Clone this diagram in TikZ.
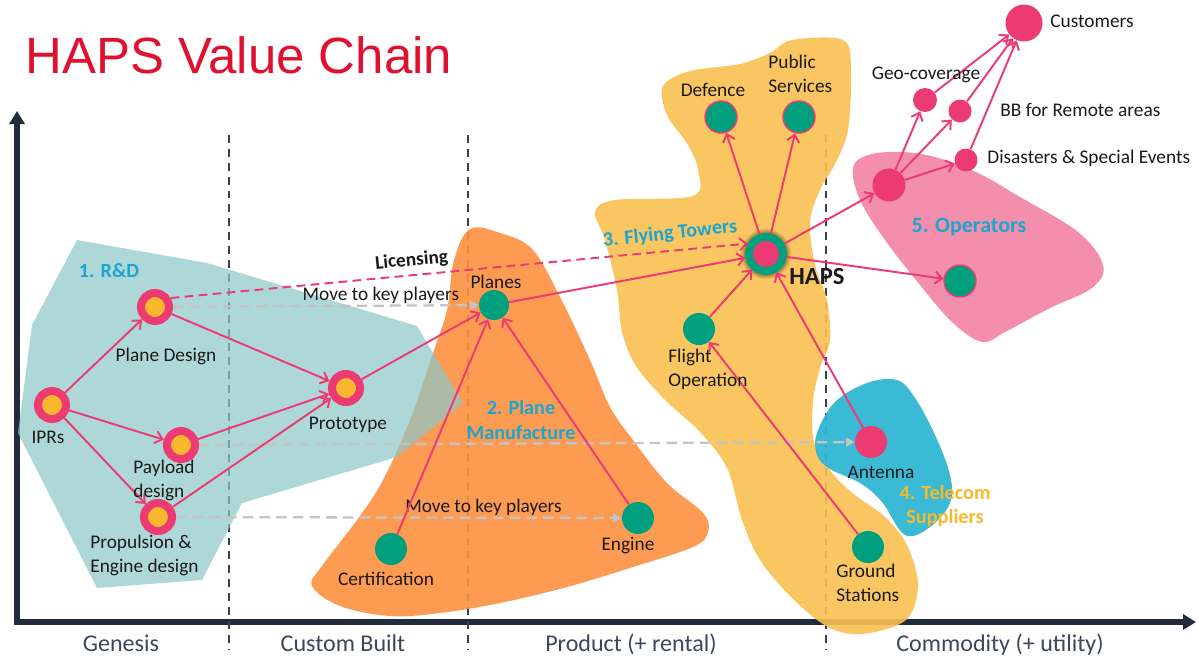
\documentclass[tikz,border=0pt]{standalone}
\usepackage{fontspec}
\setmainfont{Carlito}
\newfontfamily\titlefont{Liberation Sans}
\usetikzlibrary{arrows.meta}

\definecolor{nodepink}{HTML}{EC3A72}
\definecolor{nodeyellow}{HTML}{FBB82F}
\definecolor{nodegreen}{HTML}{00A07E}
\definecolor{rdteal}{HTML}{8CC8C8}
\definecolor{mforange}{HTML}{FD9040}
\definecolor{ftyellow}{HTML}{FAC050}
\definecolor{tsblue}{HTML}{2FB6D2}
\definecolor{oppink}{HTML}{F288A9}
\definecolor{zoneblue}{HTML}{1AA6CF}
\definecolor{zoneyellow}{HTML}{F9B92A}
\definecolor{titlered}{HTML}{E0112F}
\definecolor{axisnavy}{HTML}{222B3D}
\definecolor{phasegray}{HTML}{3E475A}
\definecolor{movegray}{HTML}{C4C4C4}
\definecolor{lbltext}{HTML}{1A1A1A}

\tikzset{
  rdnode/.style={circle,draw=nodepink,fill=nodeyellow,line width=0.16cm,minimum size=0.56cm,inner sep=0pt,outer sep=0.08cm},
  grnode/.style={circle,fill=nodegreen,minimum size=0.64cm,inner sep=0pt},
  grpnode/.style={grnode,draw=nodepink,line width=0.8pt},
  pknode/.style={circle,fill=nodepink,inner sep=0pt},
  hapsnode/.style={circle,draw=nodegreen,fill=nodepink,line width=0.155cm,minimum size=0.68cm,inner sep=0pt,outer sep=0.078cm},
  pinkarrow/.style={draw=nodepink,line width=1.1pt,-{Straight Barb[length=4pt,width=7pt]}},
  grayarrow/.style={draw=movegray,line width=1.3pt,dash pattern=on 6pt off 3.5pt,-{Triangle[length=5pt,width=5pt]}},
  lbl/.style={font=\fontsize{11}{13.6}\selectfont,text=lbltext,inner sep=0pt,align=left},
  zone/.style={font=\bfseries\fontsize{11.5}{14.2}\selectfont,text=zoneblue,inner sep=0pt,align=center},
  phase/.style={font=\fontsize{13.7}{16}\selectfont,text=phasegray,inner sep=0pt,anchor=base},
  axis/.style={draw=axisnavy,line width=0.11cm},
  phaseline/.style={draw=axisnavy!90,line width=0.85pt,dash pattern=on 4.5pt off 3.4pt}
}

\begin{document}
\begin{tikzpicture}[x=0.02cm,y=-0.02cm]
\useasboundingbox (0,0) rectangle (1199,663);

\coordinate (ytop) at (17,111);
\coordinate (orig) at (17,622);
\coordinate (xend) at (1196,622);
\draw[axis,{Triangle[length=0.26cm,width=0.3cm]}-{Triangle[length=0.26cm,width=0.3cm]}] (ytop) -- (orig) -- (xend);
\foreach \x in {229,468,826}
    \draw[phaseline] (\x,135) -- (\x,650);

\node[phase] (pgen) at (121,651) {Genesis};
\node[phase] (pcus) at (343,651) {Custom Built};
\node[phase] (ppro) at (631,651) {Product (+ rental)};
\node[phase] (pcom) at (1000,651) {Commodity (+ utility)};

\node[anchor=base west,font=\titlefont\fontsize{29}{34}\selectfont,text=titlered,inner sep=0pt] (title) at (25,73) {HAPS Value Chain};

\fill[mforange,fill opacity=0.9] plot[smooth cycle,tension=0.6] coordinates {(470,229) (500,233) (533,250) (563,303) (590,360) (610,407) (633,440) (667,483) (703,513) (708,532) (693,547) (633,567) (567,587) (500,603) (440,613) (390,616) (340,606) (312,586) (322,566) (357,520) (383,480) (410,420) (433,353) (447,310) (454,260)};
\fill[rdteal,fill opacity=0.7] (77,240) -- (207,263) -- (417,326) -- (463,403) -- (397,457) -- (242,503) -- (202,580) -- (97,588) -- (18,433) -- (32,325) -- cycle;
\fill[ftyellow,fill opacity=0.9] plot[smooth cycle,tension=0.55] coordinates {(663,86) (690,71) (740,64) (770,53) (792,40) (843,40) (851,70) (848,130) (836,162) (820,190) (810,222) (815,265) (827,300) (830,340) (820,368) (813,402) (814,442) (833,474) (855,495) (885,517) (907,545) (918,585) (906,620) (862,634) (828,627) (792,598) (760,560) (742,520) (727,468) (700,432) (665,400) (636,366) (622,332) (617,290) (605,240) (595,212) (615,200) (693,196) (698,170) (688,145) (667,115)};
\fill[tsblue,fill opacity=0.95] plot[smooth cycle,tension=0.6] coordinates {(817,433) (835,402) (867,383) (897,380) (915,398) (935,435) (950,475) (950,503) (930,527) (905,535) (882,502) (860,483) (830,469) (817,455)};
\fill[oppink,fill opacity=0.95] plot[smooth cycle,tension=0.6] coordinates {(853,168) (868,155) (900,152) (935,157) (978,173) (1020,197) (1078,232) (1103,265) (1092,288) (1050,308) (1005,332) (982,342) (952,322) (920,285) (885,240) (860,200)};

\node[rdnode] (ipr) at (52,405) {};
\node[rdnode] (pdes) at (155,307) {};
\node[rdnode] (pay) at (181,445) {};
\node[rdnode] (prop) at (158,517) {};
\node[rdnode] (proto) at (346,388) {};
\node[grnode,minimum size=0.6cm] (planes) at (494,305) {};
\node[grnode] (cert) at (391,549) {};
\node[grnode] (eng) at (638,518) {};
\node[grnode] (flop) at (699,329) {};
\node[grpnode] (def) at (721,117) {};
\node[grpnode] (pub) at (799,117) {};
\node[grnode] (gst) at (868,547) {};
\node[pknode,minimum size=0.64cm] (ant) at (871,442) {};
\foreach \r/\o in {0.5/0.10,0.47/0.12,0.44/0.15}
    \fill[black,opacity=\o] (766,254) circle[radius=\r cm];
\node[hapsnode] (haps) at (766,254) {};
\node[pknode,minimum size=0.66cm] (opr) at (889,185) {};
\node[grpnode] (opg) at (960,281) {};
\node[pknode,minimum size=0.48cm] (geo) at (925,100) {};
\node[pknode,minimum size=0.46cm] (bb) at (960,111) {};
\node[pknode,minimum size=0.46cm] (dis) at (966,160) {};
\node[pknode,minimum size=0.74cm] (cust) at (1024,23) {};

\draw[grayarrow] (pdes) -- (planes) node[lbl,pos=0.68,above=0.5pt] (move1) {Move to key players};
\draw[grayarrow] (pay) -- (ant);
\draw[grayarrow] (prop) -- (eng) node[lbl,pos=0.69,above=0.5pt] (move2) {Move to key players};

\draw[pinkarrow,dash pattern=on 5pt off 3pt] (pdes.30) -- (haps.150) node[lbl,font=\bfseries\fontsize{11}{13}\selectfont,sloped,above=3pt,pos=0.42] (lic) {Licensing};
\foreach \a/\b in {ipr/pdes,ipr/pay,ipr/prop,pdes/proto,pay/proto,prop/proto,proto/planes,cert/planes,eng/planes,planes/haps,flop/haps,ant/haps,gst/flop,haps/def,haps/pub,haps/opr,haps/opg,opr/geo,opr/bb,opr/dis,geo/cust,bb/cust,dis/cust}
    \draw[pinkarrow] (\a) -- (\b);

\node[lbl] (lipr) at (48,437) {IPRs};
\node[lbl] (lpdes) at (166,356) {Plane Design};
\node[lbl,anchor=west] (lpay) at (133,480) {Payload\\design};
\node[lbl,anchor=west] (lprop) at (90,555) {Propulsion \&\\Engine design};
\node[lbl] (lproto) at (348,425) {Prototype};
\node[lbl] (lplanes) at (496,282) {Planes};
\node[lbl] (lcert) at (386,579) {Certification};
\node[lbl] (leng) at (628,546) {Engine};
\node[lbl,anchor=west] (lflop) at (668,369) {Flight\\Operation};
\node[lbl] (ldef) at (713,90) {Defence};
\node[lbl,anchor=west] (lpub) at (768,74) {Public\\Services};
\node[lbl] (lant) at (881,472) {Antenna};
\node[lbl,anchor=west] (lgst) at (836,583) {Ground\\Stations};
\node[lbl] (lgeo) at (926,75) {Geo-coverage};
\node[lbl,anchor=west] (lbb) at (1000,110) {BB for Remote areas};
\node[lbl,anchor=west] (ldis) at (987,158) {Disasters \& Special Events};
\node[lbl,anchor=west] (lcust) at (1050,21) {Customers};
\node[lbl,font=\bfseries\fontsize{14}{16}\selectfont] (lhaps) at (817,277) {HAPS};

\node[zone] (zrd) at (109,271) {1. R\&D};
\node[zone] (zmf) at (521,420) {2. Plane\\Manufacture};
\node[zone,rotate=6] (zft) at (670,234) {3. Flying Towers};
\node[zone,text=zoneyellow] (zts) at (945,506) {4. Telecom\\Suppliers};
\node[zone,font=\bfseries\fontsize{12.5}{15}\selectfont] (zop) at (969,227) {5. Operators};
\end{tikzpicture}
\end{document}
